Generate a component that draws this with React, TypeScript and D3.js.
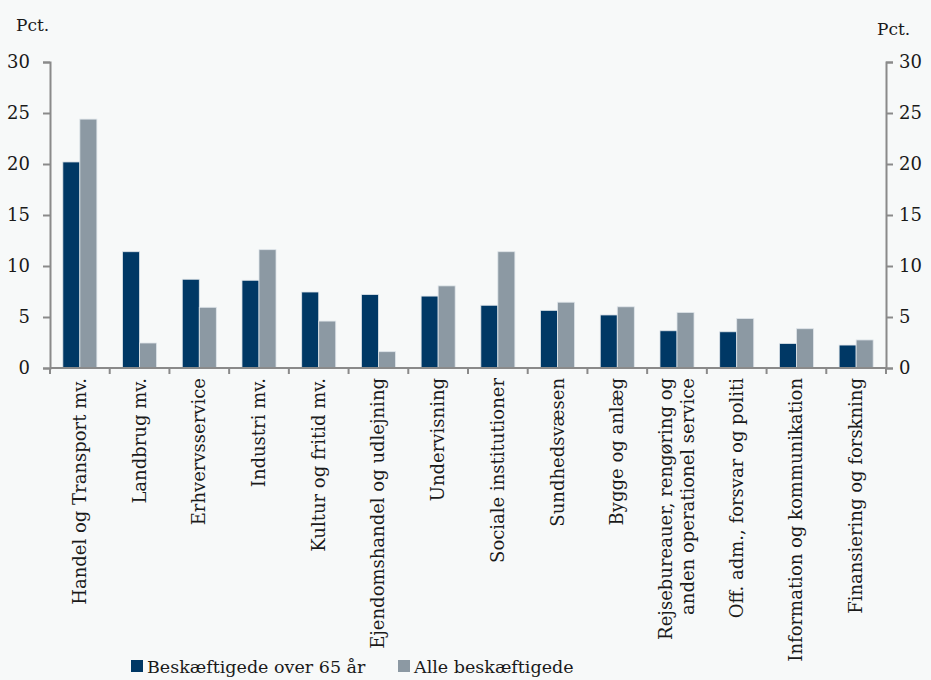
import * as d3 from "d3";
import React, {useEffect, useRef} from "react";

const categories = [
  "Handel og Transport mv.",
  "Landbrug mv.",
  "Erhvervsservice",
  "Industri mv.",
  "Kultur og fritid mv.",
  "Ejendomshandel og udlejning",
  "Undervisning",
  "Sociale institutioner",
  "Sundhedsvæsen",
  "Bygge og anlæg",
  "Rejsebureauer, rengøring og|anden operationel service",
  "Off. adm., forsvar og politi",
  "Information og kommunikation",
  "Finansiering og forskning",
];
const over65 = [20.2, 11.4, 8.7, 8.6, 7.45, 7.2, 7.05, 6.15, 5.65, 5.2, 3.65, 3.55, 2.4, 2.25];
const alle = [24.4, 2.45, 5.95, 11.6, 4.6, 1.6, 8.05, 11.4, 6.45, 6.0, 5.45, 4.85, 3.85, 2.75];
const yTicks = [0, 5, 10, 15, 20, 25, 30];
const seriesNames = ["Beskæftigede over 65 år", "Alle beskæftigede"];
const colors = ["#003865", "#8c99a3"];

const W = 931;
const H = 680;
const FONT = "'DejaVu Serif', serif";

const App: React.FC = () => {
  const ref = useRef<SVGSVGElement | null>(null);

  useEffect(() => {
    document.body.style.margin = "0";
    const svg = d3.select(ref.current);
    svg.selectAll('*').remove();

    const left = 50, right = 886, top = 62, bottom = 368;
    const axisColor = "#8a8a8a";

    svg.append('rect').attr('width', W).attr('height', H).attr('fill', '#f7f9f9');

    const x = d3.scaleBand<number>()
      .domain(d3.range(categories.length))
      .range([left, right]);
    const y = d3.scaleLinear().domain([0, 30]).range([bottom, top]);

    const barW = x.bandwidth() * 0.285;
    const inner = (x.bandwidth() - 2 * barW) / 2;

    // bars
    [over65, alle].forEach((vals, s) => {
      svg.append('g')
        .selectAll('rect')
        .data(vals)
        .enter()
        .append('rect')
        .attr('x', (_, i) => (x(i) as number) + inner + s * barW)
        .attr('y', (d) => y(d))
        .attr('width', barW)
        .attr('height', (d) => bottom - y(d))
        .attr('fill', colors[s])
        .attr('stroke', '#dfe5ea')
        .attr('stroke-width', 0.8);
    });

    // left axis
    const gl = svg.append('g').attr('transform', `translate(${left},0)`)
      .call(d3.axisLeft(y).tickValues(yTicks).tickSize(7).tickPadding(13));
    // right axis
    const gr = svg.append('g').attr('transform', `translate(${right},0)`)
      .call(d3.axisRight(y).tickValues(yTicks).tickSize(7).tickPadding(6));
    [gl, gr].forEach((g) => {
      g.select('.domain').attr('stroke', axisColor).attr('stroke-width', 2);
      g.selectAll('.tick line').attr('stroke', axisColor).attr('stroke-width', 2);
      g.selectAll('.tick text')
        .attr('fill', '#1a1a1a')
        .style('font-family', FONT)
        .style('font-size', '18px');
    });

    // x axis
    svg.append('line')
      .attr('x1', left).attr('x2', right)
      .attr('y1', bottom).attr('y2', bottom)
      .attr('stroke', axisColor).attr('stroke-width', 2);
    svg.append('g')
      .selectAll('line')
      .data(d3.range(categories.length + 1))
      .enter()
      .append('line')
      .attr('x1', (i) => left + i * x.step())
      .attr('x2', (i) => left + i * x.step())
      .attr('y1', bottom)
      .attr('y2', bottom + 6)
      .attr('stroke', axisColor)
      .attr('stroke-width', 2);

    // category labels
    categories.forEach((c, i) => {
      const lines = c.split('|');
      const cx = (x(i) as number) + x.bandwidth() / 2;
      const t = svg.append('text')
        .attr('transform', `translate(${cx},378) rotate(-90)`)
        .attr('text-anchor', 'end')
        .attr('fill', '#1a1a1a')
        .style('font-family', FONT)
        .style('font-size', '18px');
      const lh = 22;
      lines.forEach((l, k) => {
        t.append('tspan')
          .attr('x', 0)
          .attr('y', 6 + (k - (lines.length - 1) / 2) * lh)
          .text(l);
      });
    });

    // Pct labels
    svg.append('text').attr('x', 16).attr('y', 31).text('Pct.')
      .style('font-family', FONT).style('font-size', '17px').attr('fill', '#1a1a1a');
    svg.append('text').attr('x', 877).attr('y', 35).text('Pct.')
      .style('font-family', FONT).style('font-size', '17px').attr('fill', '#1a1a1a');

    // legend
    const legendX = [131, 398];
    seriesNames.forEach((n, s) => {
      svg.append('rect')
        .attr('x', legendX[s]).attr('y', 660)
        .attr('width', 12).attr('height', 12)
        .attr('fill', colors[s]);
      svg.append('text')
        .attr('x', legendX[s] + 16).attr('y', 673)
        .text(n)
        .attr('fill', '#1a1a1a')
        .style('font-family', FONT)
        .style('font-size', '17.5px');
    });
  }, []);

  return <svg ref={ref} width={W} height={H} style={{display: 'block'}}/>;
};

export default App;
